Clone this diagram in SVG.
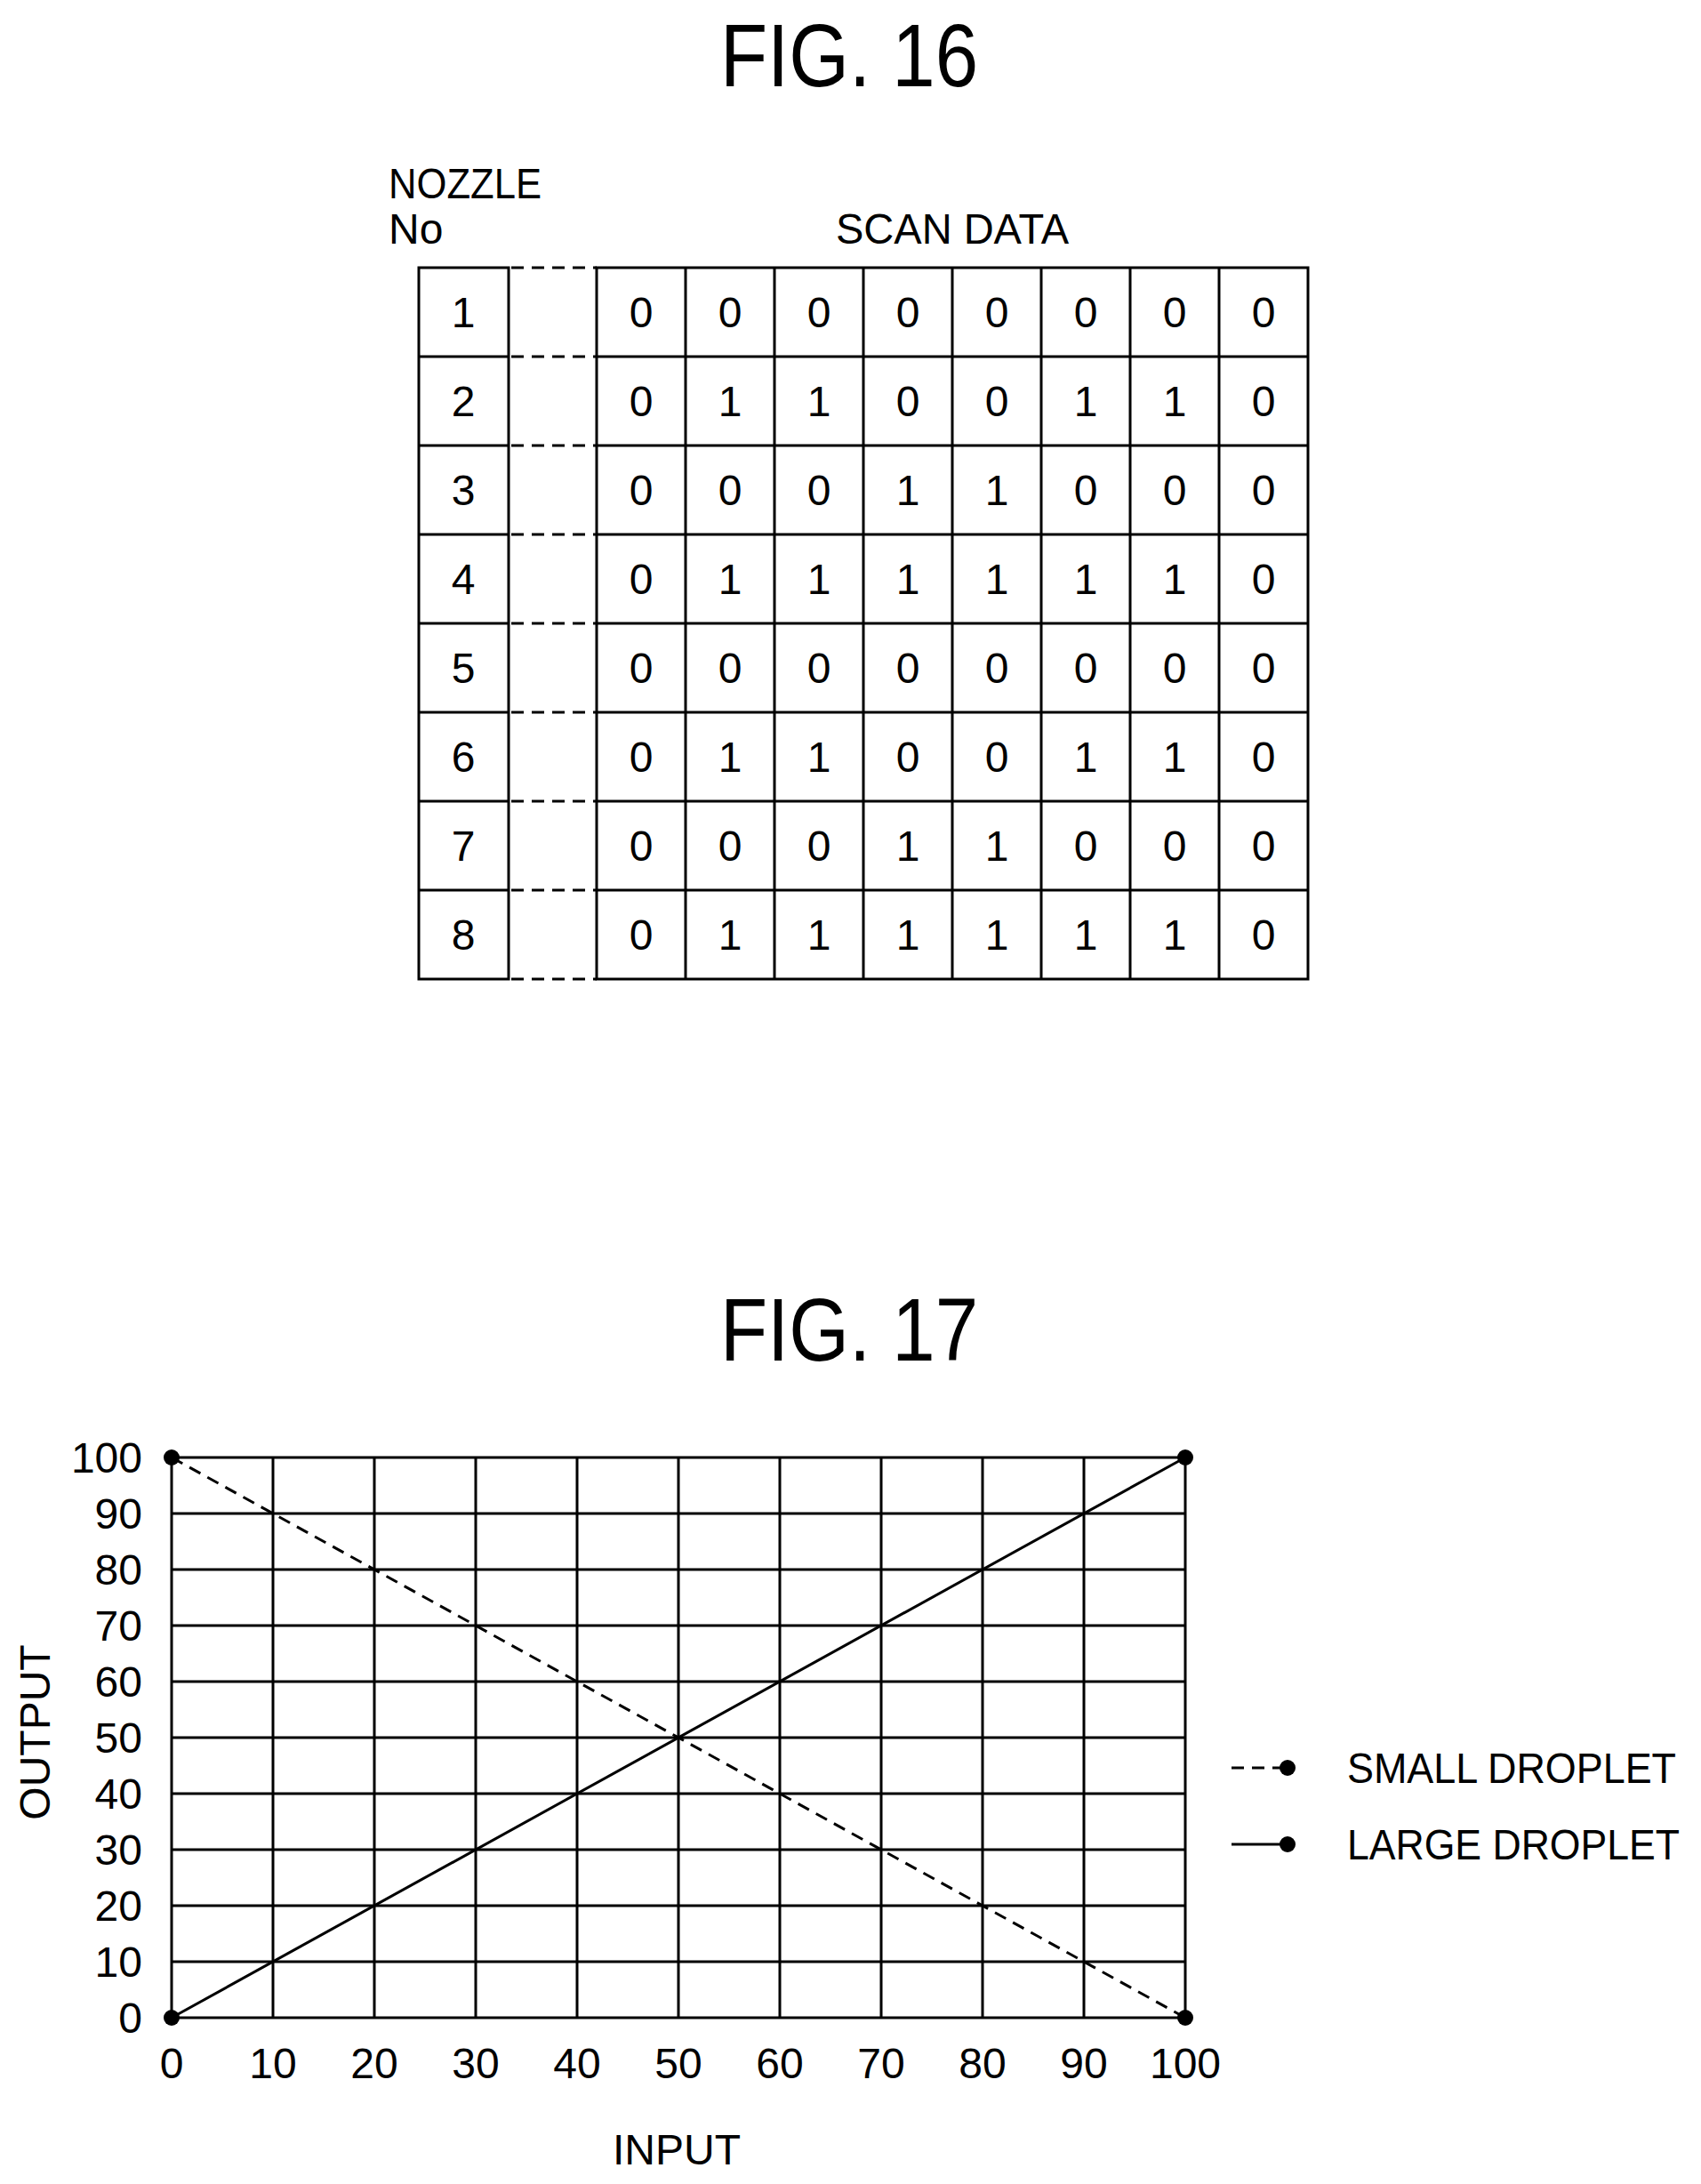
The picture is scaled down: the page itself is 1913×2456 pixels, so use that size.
<svg xmlns="http://www.w3.org/2000/svg" width="1913" height="2456" viewBox="0 0 1913 2456">
<style>
text{font-family:"Liberation Sans",Arial,sans-serif;fill:#000}
.t{font-size:100px;text-anchor:middle}
.l{font-size:48px}
.c{font-size:48px;text-anchor:middle}
.r{font-size:48px;text-anchor:end}
.g{stroke:#000;stroke-width:3;fill:none}
.d{stroke:#000;stroke-width:3;stroke-dasharray:14,9;fill:none}
</style>
<rect width="1913" height="2456" fill="#fff"/>
<text class="t" x="955" y="97" textLength="290" lengthAdjust="spacingAndGlyphs">FIG. 16</text>
<text class="l" x="437" y="223" textLength="172" lengthAdjust="spacingAndGlyphs">NOZZLE</text>
<text class="l" x="437" y="274">No</text>
<text class="c" x="1071" y="274" textLength="262" lengthAdjust="spacingAndGlyphs">SCAN DATA</text>
<g id="table">
<rect class="g" x="471" y="301" width="101" height="800" stroke-width="4"/>
<rect class="g" x="671" y="301" width="800" height="800" stroke-width="4"/>
<path class="g" d="M471 401H572M471 501H572M471 601H572M471 701H572M471 801H572M471 901H572M471 1001H572
M671 401H1471M671 501H1471M671 601H1471M671 701H1471M671 801H1471M671 901H1471M671 1001H1471
M771 301V1101M871 301V1101M971 301V1101M1071 301V1101M1171 301V1101M1271 301V1101M1371 301V1101"/>
</g>
<g id="connectors">
<path class="d" d="M575 301H671M575 401H671M575 501H671M575 601H671M575 701H671M575 801H671M575 901H671M575 1001H671M575 1101H671"/>
</g>
<g id="cells">
<text class="c" x="521" y="368">1</text><text class="c" x="521" y="468">2</text><text class="c" x="521" y="568">3</text><text class="c" x="521" y="668">4</text><text class="c" x="521" y="768">5</text><text class="c" x="521" y="868">6</text><text class="c" x="521" y="968">7</text><text class="c" x="521" y="1068">8</text>
<text class="c" y="368"><tspan x="721">0</tspan><tspan x="821">0</tspan><tspan x="921">0</tspan><tspan x="1021">0</tspan><tspan x="1121">0</tspan><tspan x="1221">0</tspan><tspan x="1321">0</tspan><tspan x="1421">0</tspan></text>
<text class="c" y="468"><tspan x="721">0</tspan><tspan x="821">1</tspan><tspan x="921">1</tspan><tspan x="1021">0</tspan><tspan x="1121">0</tspan><tspan x="1221">1</tspan><tspan x="1321">1</tspan><tspan x="1421">0</tspan></text>
<text class="c" y="568"><tspan x="721">0</tspan><tspan x="821">0</tspan><tspan x="921">0</tspan><tspan x="1021">1</tspan><tspan x="1121">1</tspan><tspan x="1221">0</tspan><tspan x="1321">0</tspan><tspan x="1421">0</tspan></text>
<text class="c" y="668"><tspan x="721">0</tspan><tspan x="821">1</tspan><tspan x="921">1</tspan><tspan x="1021">1</tspan><tspan x="1121">1</tspan><tspan x="1221">1</tspan><tspan x="1321">1</tspan><tspan x="1421">0</tspan></text>
<text class="c" y="768"><tspan x="721">0</tspan><tspan x="821">0</tspan><tspan x="921">0</tspan><tspan x="1021">0</tspan><tspan x="1121">0</tspan><tspan x="1221">0</tspan><tspan x="1321">0</tspan><tspan x="1421">0</tspan></text>
<text class="c" y="868"><tspan x="721">0</tspan><tspan x="821">1</tspan><tspan x="921">1</tspan><tspan x="1021">0</tspan><tspan x="1121">0</tspan><tspan x="1221">1</tspan><tspan x="1321">1</tspan><tspan x="1421">0</tspan></text>
<text class="c" y="968"><tspan x="721">0</tspan><tspan x="821">0</tspan><tspan x="921">0</tspan><tspan x="1021">1</tspan><tspan x="1121">1</tspan><tspan x="1221">0</tspan><tspan x="1321">0</tspan><tspan x="1421">0</tspan></text>
<text class="c" y="1068"><tspan x="721">0</tspan><tspan x="821">1</tspan><tspan x="921">1</tspan><tspan x="1021">1</tspan><tspan x="1121">1</tspan><tspan x="1221">1</tspan><tspan x="1321">1</tspan><tspan x="1421">0</tspan></text>
</g>
<text class="t" x="955" y="1530" textLength="290" lengthAdjust="spacingAndGlyphs">FIG. 17</text>
<g id="chart">
<rect class="g" x="193" y="1639" width="1140" height="630" stroke-width="4"/>
<path class="g" d="M307 1639V2269M421 1639V2269M535 1639V2269M649 1639V2269M763 1639V2269M877 1639V2269M991 1639V2269M1105 1639V2269M1219 1639V2269
M193 1702H1333M193 1765H1333M193 1828H1333M193 1891H1333M193 1954H1333M193 2017H1333M193 2080H1333M193 2143H1333M193 2206H1333"/>
<path class="d" d="M193 1639L1333 2269"/>
<path class="g" d="M193 2269L1333 1639"/>
<circle cx="193" cy="1639" r="9"/><circle cx="1333" cy="1639" r="9"/><circle cx="193" cy="2269" r="9"/><circle cx="1333" cy="2269" r="9"/>
<text class="r" x="160" y="1656">100</text><text class="r" x="160" y="1719">90</text><text class="r" x="160" y="1782">80</text><text class="r" x="160" y="1845">70</text><text class="r" x="160" y="1908">60</text><text class="r" x="160" y="1971">50</text><text class="r" x="160" y="2034">40</text><text class="r" x="160" y="2097">30</text><text class="r" x="160" y="2160">20</text><text class="r" x="160" y="2223">10</text><text class="r" x="160" y="2286">0</text>
<text class="c" y="2337"><tspan x="193">0</tspan><tspan x="307">10</tspan><tspan x="421">20</tspan><tspan x="535">30</tspan><tspan x="649">40</tspan><tspan x="763">50</tspan><tspan x="877">60</tspan><tspan x="991">70</tspan><tspan x="1105">80</tspan><tspan x="1219">90</tspan><tspan x="1333">100</tspan></text>
<text class="c" x="761" y="2434">INPUT</text>
<text class="c" transform="translate(56 1948) rotate(-90)">OUTPUT</text>
</g>
<g id="legend">
<path class="d" d="M1385 1988H1448"/><circle cx="1448" cy="1988" r="9"/>
<text class="l" x="1515" y="2005" textLength="370" lengthAdjust="spacingAndGlyphs">SMALL DROPLET</text>
<path class="g" d="M1385 2074H1448"/><circle cx="1448" cy="2074" r="9"/>
<text class="l" x="1515" y="2091" textLength="374" lengthAdjust="spacingAndGlyphs">LARGE DROPLET</text>
</g>
</svg>
